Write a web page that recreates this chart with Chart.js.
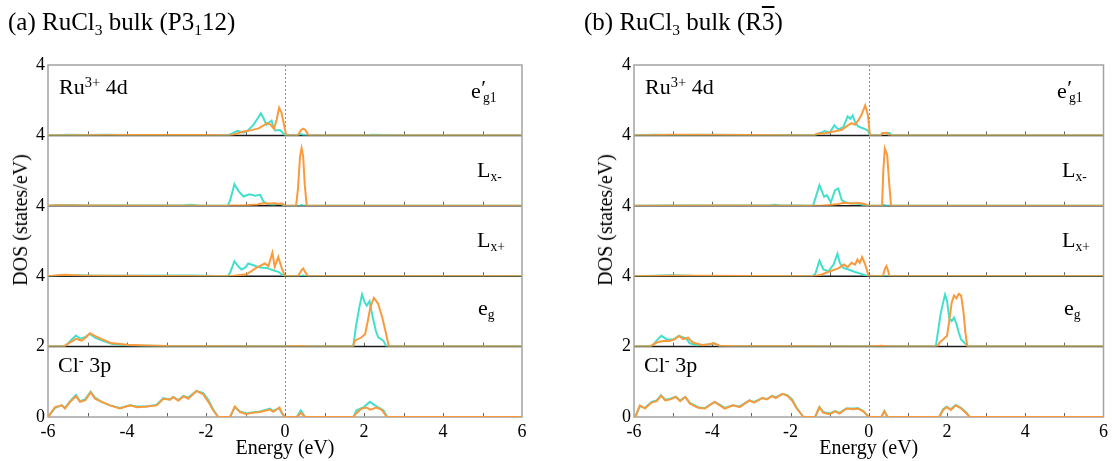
<!DOCTYPE html>
<html><head><meta charset="utf-8">
<script src="https://cdn.jsdelivr.net/npm/chart.js@4.4.0/dist/chart.umd.min.js"></script>
<style>
html,body{margin:0;padding:0;background:#fff;}
body{width:1112px;height:461px;position:relative;overflow:hidden;font-family:'Liberation Serif','Times New Roman',serif;color:#000;}
.box{position:absolute;top:0;height:461px;}
.txt{position:absolute;white-space:nowrap;line-height:1;}
.sub{position:relative;font-size:0.62em;top:0.32em;}
.sup{position:relative;font-size:0.66em;top:-0.48em;}
.prime{position:relative;font-size:1em;top:-0.12em;margin-left:0.02em;}
.ytitle{position:absolute;white-space:nowrap;font-size:20px;line-height:1;transform:translate(-50%,-50%) rotate(-90deg);}
</style></head><body>
<div class="box" style="left:0;width:540px"><canvas id="cA"></canvas></div>
<div class="box" style="left:586px;width:526px"><canvas id="cB"></canvas></div>

<div class="txt" style="left:8px;top:9px;font-size:25px">(a) RuCl<span class="sub">3</span> bulk (P3<span class="sub">1</span>12)</div>
<div class="txt" style="left:584px;top:9px;font-size:25px">(b) RuCl<span class="sub">3</span> bulk (R<span style="text-decoration:overline">3</span>)</div>
<div class="ytitle" style="left:20px;top:220px">DOS (states/eV)</div>
<div class="ytitle" style="left:605px;top:220px">DOS (states/eV)</div>

<div class="txt" style="left:59px;top:76px;font-size:22px">Ru<span class="sup">3+</span> 4d</div>
<div class="txt" style="left:471px;top:80px;font-size:22px">e<span class="prime">′</span><span class="sub" style="margin-left:-0.22em">g1</span></div>
<div class="txt" style="left:477px;top:159px;font-size:22px">L<span class="sub">x-</span></div>
<div class="txt" style="left:477px;top:229px;font-size:22px">L<span class="sub">x+</span></div>
<div class="txt" style="left:478px;top:297px;font-size:22px">e<span class="sub">g</span></div>
<div class="txt" style="left:58px;top:354px;font-size:22px">Cl<span class="sup">-</span> 3p</div>

<div class="txt" style="left:645px;top:76px;font-size:22px">Ru<span class="sup">3+</span> 4d</div>
<div class="txt" style="left:1057px;top:80px;font-size:22px">e<span class="prime">′</span><span class="sub" style="margin-left:-0.22em">g1</span></div>
<div class="txt" style="left:1062px;top:159px;font-size:22px">L<span class="sub">x-</span></div>
<div class="txt" style="left:1062px;top:229px;font-size:22px">L<span class="sub">x+</span></div>
<div class="txt" style="left:1064px;top:297px;font-size:22px">e<span class="sub">g</span></div>
<div class="txt" style="left:644px;top:354px;font-size:22px">Cl<span class="sup">-</span> 3p</div>

<script>
// ---------- axis / tick data ----------
const energyRange = [-6, 6];
const energyTickStep = 2;
const panelMax = [4, 4, 4, 4, 2];
const panelTickLabels = [[4], [4], [4], [4], [0, 2]];
const tealColor = '#42DFCF';
const orangeColor = '#FA9A3C';

// ---------- (a) P3_1 12 : [energy (eV), DOS] ----------
const aEg1Teal = [[-6,0],[-5.5,0.03],[-5,0.02],[-4.5,0.03],[-4,0.02],[-3,0.02],[-2,0.02],[-1.45,0],[-1.35,0.1],[-1.2,0.26],[-1.05,0.16],[-0.95,0.25],[-0.8,0.6],[-0.68,1.0],[-0.61,1.26],[-0.55,1.0],[-0.47,0.6],[-0.4,0.75],[-0.34,0.84],[-0.3,0.5],[-0.25,0.28],[-0.13,0.3],[-0.07,0.18],[0,0],[0.3,0],[0.4,0.08],[0.5,0],[2,0],[2.2,0.03],[3,0],[6,0]];
const aEg1Orange = [[-6,0],[-4,0.02],[-2,0.02],[-1.4,0],[-1.3,0.05],[-1.05,0.22],[-0.85,0.3],[-0.67,0.4],[-0.55,0.55],[-0.46,0.7],[-0.37,0.62],[-0.28,0.38],[-0.21,0.9],[-0.15,1.57],[-0.09,1.3],[-0.04,0.76],[0.03,0],[0.32,0],[0.4,0.3],[0.46,0.38],[0.52,0.3],[0.6,0],[6,0]];
const aLxmTeal = [[-6,0],[-5.8,0.05],[-5.4,0.05],[-5,0.02],[-2.6,0.02],[-2.4,0.06],[-2.2,0.02],[-1.45,0],[-1.39,0.3],[-1.28,1.23],[-1.18,0.85],[-1.05,0.53],[-0.97,0.6],[-0.89,0.66],[-0.76,0.57],[-0.63,0.62],[-0.55,0.25],[-0.45,0.1],[-0.3,0.08],[-0.13,0.12],[-0.06,0.06],[0,0],[0.38,0],[0.42,0.05],[0.46,0],[6,0]];
const aLxmOrange = [[-6,0],[-5.8,0.03],[-5,0.02],[-1.5,0],[-1,0.03],[-0.7,0.08],[-0.55,0.15],[-0.4,0.13],[-0.25,0.15],[-0.15,0.1],[-0.08,0.14],[0,0],[0.28,0],[0.33,1.0],[0.38,2.8],[0.42,3.28],[0.46,2.8],[0.5,1.2],[0.55,0],[6,0]];
const aLxpTeal = [[-6,0],[-5.6,0.06],[-5.2,0.05],[-4.8,0.02],[-2.6,0.04],[-2.3,0.04],[-1.45,0],[-1.39,0.2],[-1.28,0.85],[-1.18,0.55],[-1.1,0.38],[-1.0,0.5],[-0.93,0.72],[-0.8,0.62],[-0.63,0.49],[-0.46,0.47],[-0.3,0.34],[-0.17,0.25],[-0.08,0.1],[0,0],[0.4,0],[0.45,0.05],[0.5,0],[6,0]];
const aLxpOrange = [[-6,0],[-5.6,0.08],[-5.2,0.04],[-4.8,0.02],[-1.5,0],[-1.3,0.03],[-0.97,0.11],[-0.72,0.49],[-0.51,0.72],[-0.42,0.57],[-0.32,1.33],[-0.26,0.53],[-0.17,1.1],[-0.08,0.44],[0,0],[0.33,0],[0.42,0.35],[0.46,0.44],[0.52,0.2],[0.58,0],[6,0]];
const aEgTeal = [[-6,0],[-5.6,0],[-5.53,0.1],[-5.4,0.4],[-5.29,0.63],[-5.19,0.45],[-5.05,0.55],[-4.94,0.72],[-4.8,0.5],[-4.63,0.34],[-4.37,0.15],[-4.0,0.08],[-3.6,0.05],[-3,0.03],[-2,0.02],[-1.4,0.02],[0,0],[1.7,0],[1.73,0.05],[1.8,1.2],[1.88,2.2],[1.95,2.96],[2.02,2.5],[2.07,2.33],[2.14,2.58],[2.19,2.0],[2.24,1.48],[2.3,0.9],[2.36,0.53],[2.49,0.34],[2.57,0],[6,0]];
const aEgOrange = [[-6,0],[-5.6,0],[-5.5,0.15],[-5.29,0.44],[-5.15,0.34],[-5.05,0.5],[-4.94,0.76],[-4.8,0.6],[-4.65,0.44],[-4.4,0.2],[-4.0,0.1],[-3.5,0.06],[-3,0.03],[-2,0.02],[0,0],[0.4,0.03],[0.6,0],[1.72,0],[1.77,0.34],[1.94,0.53],[2.03,0.72],[2.1,1.5],[2.16,2.24],[2.25,2.77],[2.36,2.43],[2.46,1.67],[2.54,0.91],[2.63,0],[6,0]];
const aClTeal = [[-6,0],[-5.82,0.26],[-5.65,0.33],[-5.57,0.26],[-5.44,0.45],[-5.29,0.63],[-5.19,0.45],[-5.06,0.5],[-4.92,0.72],[-4.81,0.55],[-4.64,0.43],[-4.43,0.33],[-4.18,0.26],[-3.92,0.33],[-3.75,0.3],[-3.5,0.3],[-3.25,0.35],[-3.08,0.54],[-2.91,0.5],[-2.83,0.57],[-2.7,0.48],[-2.57,0.6],[-2.45,0.55],[-2.24,0.74],[-2.07,0.68],[-1.94,0.48],[-1.82,0.22],[-1.69,0],[-1.39,0],[-1.27,0.28],[-1.14,0.16],[-0.97,0.1],[-0.89,0.12],[-0.63,0.16],[-0.38,0.24],[-0.3,0.17],[-0.14,0.25],[-0.08,0.1],[0,0],[0.3,0],[0.4,0.19],[0.51,0],[1.73,0],[1.81,0.19],[1.98,0.27],[2.15,0.43],[2.24,0.36],[2.36,0.27],[2.49,0.19],[2.59,0],[6,0]];
const aClOrange = [[-6,0],[-5.82,0.28],[-5.65,0.33],[-5.57,0.24],[-5.44,0.43],[-5.29,0.59],[-5.19,0.43],[-5.06,0.47],[-4.92,0.70],[-4.81,0.52],[-4.64,0.43],[-4.43,0.33],[-4.18,0.24],[-3.92,0.33],[-3.75,0.28],[-3.5,0.30],[-3.25,0.33],[-3.08,0.52],[-2.91,0.49],[-2.83,0.57],[-2.7,0.46],[-2.57,0.59],[-2.45,0.52],[-2.24,0.74],[-2.07,0.64],[-1.94,0.43],[-1.82,0.19],[-1.69,0],[-1.39,0],[-1.27,0.3],[-1.14,0.14],[-0.97,0.08],[-0.89,0.11],[-0.63,0.14],[-0.38,0.21],[-0.3,0.15],[-0.14,0.27],[-0.08,0.12],[0,0],[0.3,0],[0.4,0.11],[0.51,0],[1.73,0],[1.8,0.1],[1.94,0.24],[2.07,0.27],[2.15,0.21],[2.32,0.27],[2.45,0.2],[2.58,0],[6,0]];

// ---------- (b) R-3 : [energy (eV), DOS] ----------
const bEg1Teal = [[-6,0],[-5.5,0.03],[-5,0.02],[-4,0.03],[-3,0.02],[-2,0.02],[-1.4,0],[-1.33,0.05],[-1.12,0.25],[-1.0,0.15],[-0.88,0.57],[-0.78,0.34],[-0.65,0.47],[-0.54,1.08],[-0.47,0.95],[-0.41,1.14],[-0.35,0.76],[-0.27,0.51],[-0.12,0.38],[-0.02,0.28],[0.03,0],[0.3,0],[0.35,0.13],[0.53,0.13],[0.6,0],[6,0]];
const bEg1Orange = [[-6,0],[-5,0.03],[-3,0.02],[-1.4,0],[-1.33,0.1],[-1.12,0.12],[-0.86,0.23],[-0.69,0.32],[-0.57,0.51],[-0.44,0.7],[-0.35,0.6],[-0.27,0.85],[-0.19,1.14],[-0.09,1.7],[-0.02,1.14],[0.03,0],[0.3,0],[0.35,0.12],[0.45,0.15],[0.52,0],[6,0]];
const bLxmTeal = [[-6,0],[-5,0.02],[-2.5,0.03],[-2.4,0.06],[-2.3,0.03],[-1.45,0],[-1.41,0.1],[-1.26,1.17],[-1.14,0.51],[-1.07,0.6],[-0.97,0.2],[-0.86,0.89],[-0.78,0.98],[-0.69,0.32],[-0.57,0.17],[-0.44,0.15],[-0.27,0.12],[-0.14,0.05],[-0.05,0],[0.3,0],[0.38,0.05],[0.46,0],[6,0]];
const bLxmOrange = [[-6,0],[-4,0.02],[-1.2,0],[-0.99,0.05],[-0.78,0.1],[-0.64,0.17],[-0.44,0.13],[-0.27,0.17],[-0.1,0.1],[0,0],[0.34,0],[0.37,1.9],[0.41,3.26],[0.47,2.9],[0.52,1.36],[0.57,0],[6,0]];
const bLxpTeal = [[-6,0],[-5.5,0.03],[-5,0.05],[-4.5,0.02],[-1.45,0],[-1.37,0.1],[-1.26,0.89],[-1.16,0.38],[-1.03,0.28],[-0.9,0.66],[-0.8,1.27],[-0.74,0.76],[-0.65,0.47],[-0.52,0.38],[-0.35,0.24],[-0.19,0.13],[-0.02,0],[6,0]];
const bLxpOrange = [[-6,0],[-5,0.03],[-4.5,0.02],[-1.4,0],[-1.2,0.1],[-0.99,0.28],[-0.78,0.44],[-0.63,0.66],[-0.54,0.51],[-0.44,0.76],[-0.35,0.66],[-0.29,0.95],[-0.23,0.76],[-0.17,1.08],[-0.09,0.66],[0,0],[0.36,0],[0.41,0.4],[0.45,0.57],[0.49,0.35],[0.53,0],[6,0]];
const bEgTeal = [[-6,0],[-5.6,0],[-5.51,0.1],[-5.4,0.4],[-5.3,0.61],[-5.17,0.42],[-5.0,0.4],[-4.85,0.61],[-4.66,0.45],[-4.58,0.2],[-4.41,0.08],[-4.1,0.12],[-3.95,0.19],[-3.82,0.05],[-3.5,0.03],[-2,0.02],[-1,0.02],[0,0],[0.4,0.03],[0.5,0],[1.68,0],[1.72,0.1],[1.78,1.0],[1.84,1.9],[1.9,2.5],[1.95,2.96],[2.0,2.6],[2.06,1.6],[2.12,1.45],[2.18,1.65],[2.24,1.3],[2.3,0.8],[2.36,0.4],[2.45,0.2],[2.55,0],[6,0]];
const bEgOrange = [[-6,0],[-5.6,0],[-5.42,0.23],[-5.26,0.32],[-5.09,0.32],[-4.96,0.42],[-4.85,0.61],[-4.75,0.42],[-4.62,0.51],[-4.5,0.23],[-4.24,0.08],[-3.95,0.19],[-3.82,0.05],[-3.5,0.03],[-2,0.02],[0,0],[0.35,0.05],[0.5,0],[1.75,0],[1.82,0.25],[1.92,0.45],[2.0,0.6],[2.06,1.5],[2.12,2.5],[2.18,2.9],[2.24,2.75],[2.3,3.0],[2.36,2.9],[2.42,2.0],[2.47,0.8],[2.52,0],[6,0]];
const bClTeal = [[-6,0],[-5.97,0],[-5.85,0.31],[-5.72,0.26],[-5.55,0.43],[-5.42,0.47],[-5.31,0.62],[-5.2,0.49],[-5.07,0.52],[-4.93,0.58],[-4.82,0.47],[-4.69,0.57],[-4.57,0.4],[-4.36,0.28],[-4.19,0.25],[-3.94,0.43],[-3.81,0.35],[-3.68,0.26],[-3.47,0.33],[-3.3,0.3],[-3.05,0.47],[-2.93,0.43],[-2.72,0.54],[-2.6,0.51],[-2.47,0.6],[-2.38,0.56],[-2.2,0.66],[-2.08,0.62],[-1.96,0.5],[-1.84,0.26],[-1.67,0],[-1.37,0],[-1.26,0.28],[-1.16,0.14],[-1.0,0.1],[-0.86,0.17],[-0.75,0.12],[-0.57,0.24],[-0.4,0.24],[-0.27,0.25],[-0.14,0.17],[0,0],[0.32,0],[0.4,0.17],[0.48,0],[1.8,0],[1.9,0.22],[1.99,0.29],[2.1,0.22],[2.22,0.34],[2.35,0.27],[2.5,0.12],[2.58,0],[6,0]];
const bClOrange = [[-6,0],[-5.97,0],[-5.85,0.33],[-5.72,0.24],[-5.55,0.41],[-5.42,0.45],[-5.31,0.6],[-5.2,0.47],[-5.07,0.5],[-4.93,0.57],[-4.82,0.45],[-4.69,0.57],[-4.57,0.38],[-4.36,0.26],[-4.19,0.24],[-3.94,0.43],[-3.81,0.33],[-3.68,0.24],[-3.47,0.33],[-3.3,0.28],[-3.05,0.47],[-2.93,0.41],[-2.72,0.54],[-2.6,0.5],[-2.47,0.6],[-2.38,0.54],[-2.2,0.66],[-2.08,0.6],[-1.96,0.47],[-1.84,0.24],[-1.67,0],[-1.37,0],[-1.26,0.28],[-1.16,0.12],[-1.0,0.08],[-0.86,0.16],[-0.75,0.1],[-0.57,0.24],[-0.4,0.22],[-0.27,0.24],[-0.14,0.16],[0,0],[0.32,0],[0.4,0.16],[0.48,0],[1.8,0],[1.9,0.2],[1.99,0.28],[2.1,0.2],[2.22,0.33],[2.35,0.25],[2.5,0.1],[2.58,0],[6,0]];

const panelsA = [[aEg1Teal,aEg1Orange],[aLxmTeal,aLxmOrange],[aLxpTeal,aLxpOrange],[aEgTeal,aEgOrange],[aClTeal,aClOrange]];
const panelsB = [[bEg1Teal,bEg1Orange],[bLxmTeal,bLxmOrange],[bLxpTeal,bLxpOrange],[bEgTeal,bEgOrange],[bClTeal,bClOrange]];

const FONT = "'Liberation Serif','Times New Roman',serif";

const dosFrame = {
  id: 'dosFrame',
  beforeDatasetsDraw(chart) {
    const {ctx, chartArea: a} = chart;
    const xs = chart.scales.x;
    ctx.save();
    const x0 = Math.round(xs.getPixelForValue(0)) + 0.5;
    ctx.strokeStyle = '#8c8c8c'; ctx.lineWidth = 1; ctx.setLineDash([2, 2]);
    ctx.beginPath(); ctx.moveTo(x0, a.top); ctx.lineTo(x0, a.bottom); ctx.stroke();
    ctx.setLineDash([]);
    ctx.strokeStyle = '#666'; ctx.lineWidth = 1;
    ctx.beginPath();
    for (let k = 0; k < panelMax.length; k++) {
      const yb = chart.scales['y' + k].getPixelForValue(0);
      for (let e = energyRange[0] + 1; e < energyRange[1]; e++) {
        const px = Math.round(xs.getPixelForValue(e)) + 0.5;
        ctx.moveTo(px, yb); ctx.lineTo(px, yb - 4);
      }
    }
    ctx.stroke();
    ctx.strokeStyle = '#1a1a1a'; ctx.lineWidth = 1.5;
    ctx.beginPath();
    for (let k = 0; k < panelMax.length - 1; k++) {
      const yb = chart.scales['y' + k].getPixelForValue(0);
      ctx.moveTo(a.left, yb); ctx.lineTo(a.right, yb);
    }
    ctx.stroke();
    ctx.strokeStyle = '#a3a3a3'; ctx.lineWidth = 1.5;
    ctx.strokeRect(a.left, a.top, a.right - a.left, a.bottom - a.top);
    ctx.restore();
  }
};

function makeChart(id, panels, rightPad) {
  const datasets = [];
  const scales = {
    x: {
      type: 'linear', position: 'bottom', min: energyRange[0], max: energyRange[1],
      grid: {display: false, drawTicks: false}, border: {display: false},
      ticks: {stepSize: energyTickStep, color: '#000', padding: 4, font: {family: FONT, size: 18}},
      title: {display: true, text: 'Energy (eV)', color: '#000', padding: 0, font: {family: FONT, size: 20}},
      afterFit: s => { s.height = 44; }
    }
  };
  panels.forEach((p, k) => {
    const yid = 'y' + k;
    scales[yid] = {
      type: 'linear', position: 'left', stack: 'dos', stackWeight: 1, weight: panels.length - k,
      min: 0, max: panelMax[k],
      afterBuildTicks: s => { s.ticks = panelTickLabels[k].map(v => ({value: v})); },
      afterFit: s => { s.width = 48; },
      grid: {display: false, drawTicks: false}, border: {display: false},
      ticks: {color: '#000', padding: 3, font: {family: FONT, size: 18}}
    };
    datasets.push({data: p[0], yAxisID: yid, borderColor: tealColor, borderWidth: 2, order: 2});
    datasets.push({data: p[1], yAxisID: yid, borderColor: orangeColor, borderWidth: 2, order: 1});
  });
  return new Chart(document.getElementById(id), {
    type: 'line',
    data: {datasets},
    options: {
      responsive: true, maintainAspectRatio: false, animation: false,
      layout: {padding: {left: 0, right: rightPad, top: 65, bottom: 0}},
      elements: {point: {radius: 0}, line: {tension: 0, fill: false}},
      plugins: {legend: {display: false}, tooltip: {enabled: false}},
      scales
    },
    plugins: [dosFrame]
  });
}

makeChart('cA', panelsA, 18);
makeChart('cB', panelsB, 6);
</script>
</body></html>
